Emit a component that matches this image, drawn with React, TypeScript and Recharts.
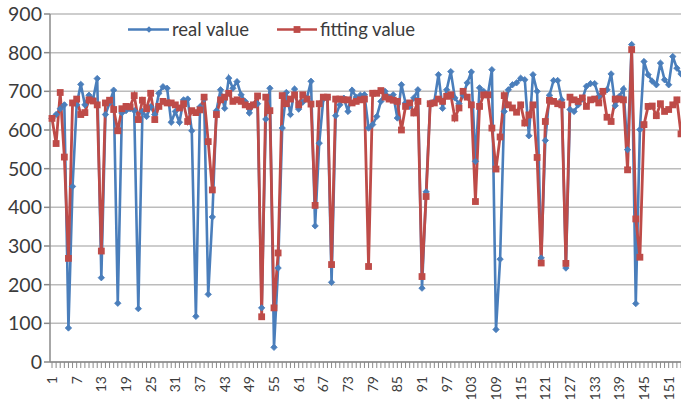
import React from 'react';
import { LineChart, Line, XAxis, YAxis, CartesianGrid, Legend } from 'recharts';

const realValue: number[] = [
  630, 640, 655, 665, 88, 454, 665, 718, 665, 690,
  680, 733, 218, 640, 670, 703, 152, 644, 650, 655,
  650, 138, 648, 635, 660, 640, 695, 712, 708, 620,
  648, 620, 678, 680, 598, 118, 660, 680, 175, 375,
  650, 704, 656, 734, 708, 725, 691, 674, 644, 665,
  668, 140, 628, 708, 38, 243, 605, 697, 640, 706,
  654, 672, 682, 726, 352, 566, 680, 685, 206, 637,
  665, 682, 648, 703, 685, 690, 691, 605, 614, 635,
  674, 700, 685, 691, 631, 717, 670, 661, 683, 704,
  191, 440, 670, 674, 743, 656, 704, 751, 683, 668,
  690, 722, 750, 519, 709, 700, 690, 756, 84, 266,
  648, 704, 717, 722, 734, 730, 585, 743, 700, 269,
  573, 690, 728, 728, 678, 243, 653, 648, 665, 680,
  713, 720, 720, 687, 700, 704, 745, 663, 687, 706,
  549, 821, 151, 601, 777, 743, 726, 717, 773, 730,
  717, 790, 760, 745,
];

const fittingValue: number[] = [
  630, 565, 697, 530, 268, 670, 680, 640, 645, 678,
  675, 665, 287, 670, 677, 653, 598, 655, 661, 660,
  689, 627, 677, 655, 695, 627, 661, 674, 670, 670,
  665, 657, 668, 622, 650, 645, 652, 685, 570, 445,
  640, 678, 685, 695, 674, 678, 674, 665, 661, 665,
  688, 117, 685, 650, 140, 282, 689, 668, 680, 691,
  665, 691, 680, 667, 405, 668, 685, 685, 252, 680,
  680, 678, 678, 670, 674, 678, 680, 247, 695, 695,
  702, 685, 680, 677, 674, 600, 661, 670, 644, 674,
  221, 428, 668, 670, 680, 674, 687, 691, 631, 657,
  700, 685, 665, 415, 661, 691, 691, 605, 499, 582,
  689, 665, 657, 646, 665, 618, 639, 665, 529, 256,
  622, 677, 674, 668, 665, 255, 685, 678, 674, 683,
  661, 678, 680, 670, 700, 633, 622, 680, 680, 678,
  497, 808, 370, 271, 614, 661, 662, 637, 668, 648,
  653, 665, 678, 590,
];

const categories: string[] = realValue.map((_, i) => String(i + 1));
const yTicks: number[] = [0, 100, 200, 300, 400, 500, 600, 700, 800, 900];

const data = categories.map((c, i) => ({ cat: c, real: realValue[i], fit: fittingValue[i] }));

const BLUE = '#4A7EBB';
const RED = '#BE4B48';
const TEXT = '#3b3b3b';
const FONT = 'Lato, "Open Sans", sans-serif';

const BlueDot = (props: any) => {
  const { cx, cy, index } = props;
  if (cx == null || cy == null) return <g key={`b${index}`} />;
  const r = 3.2;
  return (
    <polygon
      key={`b${index}`}
      points={`${cx},${cy - r} ${cx + r},${cy} ${cx},${cy + r} ${cx - r},${cy}`}
      fill={BLUE}
      stroke={BLUE}
      strokeWidth={0.8}
    />
  );
};

const RedDot = (props: any) => {
  const { cx, cy, index } = props;
  if (cx == null || cy == null) return <g key={`r${index}`} />;
  const s = 3.4;
  return <rect key={`r${index}`} x={cx - s} y={cy - s} width={2 * s} height={2 * s} fill={RED} />;
};

const XTick = (props: any) => {
  const { x, payload, index } = props;
  if (index % 6 !== 0) return <g />;
  return (
    <text
      transform={`translate(${x}, 376) rotate(-90)`}
      textAnchor="end"
      dy="0.36em"
      fontSize={14}
      fontFamily={FONT}
      fill={TEXT}
    >
      {payload.value}
    </text>
  );
};

const LegendContent = () => (
  <svg width={683} height={50} style={{ display: 'block' }}>
    <line x1={128} y1={29.5} x2={169} y2={29.5} stroke={BLUE} strokeWidth={2.6} />
    <polygon points="149,26.3 152.2,29.5 149,32.7 145.8,29.5" fill={BLUE} />
    <text x={172} y={29.5} dy="0.35em" fontSize={18.5} fontFamily={FONT} fill={TEXT}>
      real value
    </text>
    <line x1={277} y1={29.5} x2={317} y2={29.5} stroke={RED} strokeWidth={2.6} />
    <rect x={293.6} y={26.1} width={6.8} height={6.8} fill={RED} />
    <text x={320} y={29.5} dy="0.35em" fontSize={18.5} fontFamily={FONT} fill={TEXT}>
      fitting value
    </text>
  </svg>
);

export default function App() {
  return (
    <div
      style={{
        position: 'fixed',
        left: 0,
        top: 0,
        width: 681,
        height: 408,
        overflow: 'hidden',
        background: '#ffffff',
      }}
    >
      <LineChart
        width={683}
        height={408}
        data={data}
        margin={{ top: 14, right: 0, bottom: 0, left: 0 }}
      >
        <CartesianGrid vertical={false} stroke="#bcbcbc" strokeWidth={1.5} />
        <XAxis
          dataKey="cat"
          interval={0}
          height={46}
          padding={{ left: 2, right: 2 }}
          tick={<XTick />}
          tickSize={6}
          axisLine={{ stroke: '#8a8a8a', strokeWidth: 1.5 }}
          tickLine={{ stroke: '#8a8a8a', strokeWidth: 1 }}
        />
        <YAxis
          width={50}
          domain={[0, 900]}
          ticks={yTicks}
          interval={0}
          tickSize={6}
          tickMargin={2}
          axisLine={{ stroke: '#8a8a8a', strokeWidth: 1.5 }}
          tickLine={{ stroke: '#8a8a8a', strokeWidth: 1.5 }}
          tick={{ fontSize: 19.5, fontFamily: FONT, fill: TEXT }}
        />
        <Legend
          layout="horizontal"
          verticalAlign="middle"
          align="center"
          content={<LegendContent />}
          wrapperStyle={{ position: 'absolute', top: 0, left: 0, width: 683, height: 50 }}
        />
        <Line
          type="linear"
          dataKey="real"
          stroke={BLUE}
          strokeWidth={2.6}
          dot={BlueDot}
          activeDot={false}
          isAnimationActive={false}
        />
        <Line
          type="linear"
          dataKey="fit"
          stroke={RED}
          strokeWidth={2.8}
          dot={RedDot}
          activeDot={false}
          isAnimationActive={false}
        />
      </LineChart>
    </div>
  );
}
